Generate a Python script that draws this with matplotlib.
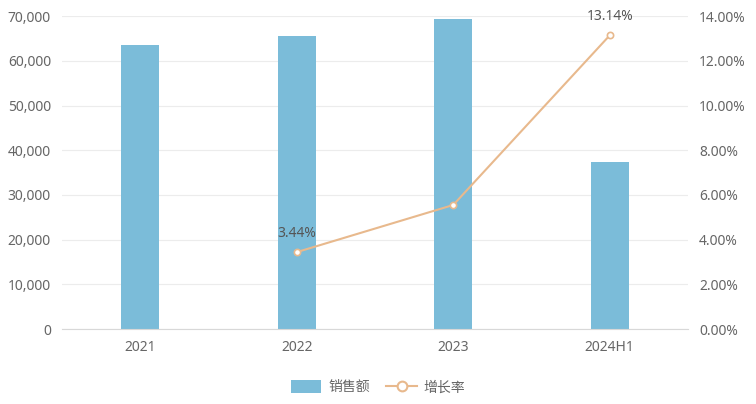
import numpy as np
import matplotlib.pyplot as plt
from matplotlib.lines import Line2D
from matplotlib.patches import Patch

plt.rcParams['font.family'] = ['Noto Sans', 'Noto Sans CJK SC', 'DejaVu Sans']

# data
categories = ['2021', '2022', '2023', '2024H1']
sales = [63500, 65600, 69300, 37400]
growth_x = ['2022', '2023', '2024H1']
growth = [3.44, 5.55, 13.14]
growth_labels = ['3.44%', '', '13.14%']

bar_color = '#7bbcd9'
line_color = '#e8b98d'
text_color = '#666666'
grid_color = '#ececec'

fig = plt.figure(figsize=(7.56, 4.04), dpi=100)
ax = fig.add_axes([0.082, 0.1856, 0.828, 0.7744])
ax2 = ax.twinx()

x = np.arange(len(categories))
ax.bar(x, sales, width=0.245, color=bar_color, zorder=2)

ax.set_xlim(-0.5, len(categories) - 0.5)
ax.set_ylim(0, 70000)
ax.set_yticks(np.arange(0, 70001, 10000))
ax.set_yticklabels([f'{v:,}' for v in range(0, 70001, 10000)])
ax.set_xticks(x)
ax.set_xticklabels(categories)
ax.grid(axis='y', color=grid_color, linewidth=0.8, zorder=0)
ax.set_axisbelow(True)

gx = [categories.index(c) for c in growth_x]
ax2.plot(gx, growth, color=line_color, linewidth=1.5, marker='o', markersize=4.5,
         markerfacecolor='white', markeredgecolor=line_color, markeredgewidth=1.2, zorder=3)
for xi, yi, lab in zip(gx, growth, growth_labels):
    if lab:
        ax2.text(xi, yi + 0.5, lab, ha='center', va='bottom', fontsize=10, color='#555555')
ax2.set_ylim(0, 14)
ax2.set_yticks(np.arange(0, 14.01, 2))
ax2.set_yticklabels([f'{v:.2f}%' for v in np.arange(0, 14.01, 2)])

for a in (ax, ax2):
    for s in a.spines.values():
        s.set_visible(False)
    a.tick_params(length=0, colors=text_color, labelsize=10)
ax.spines['bottom'].set_visible(True)
ax.spines['bottom'].set_color('#d8d8d8')
ax.tick_params(axis='y', pad=8)
ax.tick_params(axis='x', pad=8)
ax2.tick_params(axis='y', pad=8)

handles = [Patch(facecolor=bar_color, edgecolor='none'),
           Line2D([0], [0], color=line_color, linewidth=1.5, marker='o', markersize=7,
                  markerfacecolor='white', markeredgecolor=line_color, markeredgewidth=1.5)]
fig.legend(handles, ['销售额', '增长率'], loc='center', bbox_to_anchor=(0.5, 0.04),
           ncol=2, frameon=False, fontsize=10, labelcolor=text_color,
           handlelength=2.2, handleheight=1.0, columnspacing=1.2, handletextpad=0.5)

fig.savefig('out.png', dpi=100)
